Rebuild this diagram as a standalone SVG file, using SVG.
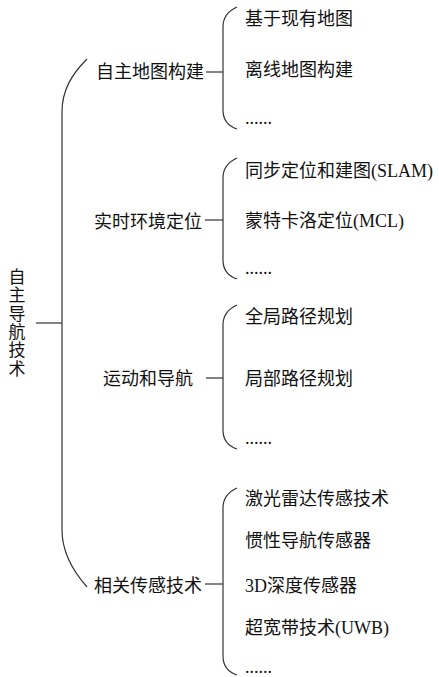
<svg xmlns="http://www.w3.org/2000/svg" width="439" height="677" viewBox="0 0 439 677">
<style>
text{font-family:"Liberation Serif","Noto Sans CJK SC",serif;font-size:18px;fill:#111}
.v{font-size:17px}
.ln{fill:none;stroke:#333;stroke-width:1.2}
</style>
<rect width="439" height="677" fill="#fff"/>
<g id="connectors">
<path class="ln" d="M36,323 H62"/>
<path class="ln" d="M87,59 C72,74 62,90 62,112 V530 C62,552 72,570 87,587"/>
<path class="ln" d="M206,72 H223"/>
<path class="ln" d="M237,7 C228,11 223,17 223,27 V110 C223,120 228,126 237,129"/>
<path class="ln" d="M205,220 H223"/>
<path class="ln" d="M237,158 C228,162 223,168 223,178 V260 C223,270 228,276 237,279"/>
<path class="ln" d="M206,378 H223"/>
<path class="ln" d="M237,305 C228,309 223,315 223,325 V430 C223,440 228,446 237,449"/>
<path class="ln" d="M205,584 H223"/>
<path class="ln" d="M237,488 C228,492 223,498 223,508 V656 C223,666 228,672 237,675"/>
</g>
<g id="root">
<text class="v" x="17" y="283" text-anchor="middle">自</text>
<text class="v" x="17" y="301" text-anchor="middle">主</text>
<text class="v" x="17" y="320" text-anchor="middle">导</text>
<text class="v" x="17" y="338" text-anchor="middle">航</text>
<text class="v" x="17" y="356" text-anchor="middle">技</text>
<text class="v" x="17" y="375" text-anchor="middle">术</text>
</g>
<g id="n1"><text x="96" y="78">自主地图构建</text></g>
<g id="n1a"><text x="245" y="25">基于现有地图</text></g>
<g id="n1b"><text x="245" y="76">离线地图构建</text></g>
<g id="n1c"><text x="245" y="124">......</text></g>
<g id="n2"><text x="94" y="228">实时环境定位</text></g>
<g id="n2a"><text x="245" y="177">同步定位和建图(SLAM)</text></g>
<g id="n2b"><text x="245" y="227">蒙特卡洛定位(MCL)</text></g>
<g id="n2c"><text x="245" y="274">......</text></g>
<g id="n3"><text x="103" y="385">运动和导航</text></g>
<g id="n3a"><text x="245" y="323">全局路径规划</text></g>
<g id="n3b"><text x="245" y="385">局部路径规划</text></g>
<g id="n3c"><text x="245" y="444">......</text></g>
<g id="n4"><text x="94" y="592">相关传感技术</text></g>
<g id="n4a"><text x="245" y="505">激光雷达传感技术</text></g>
<g id="n4b"><text x="245" y="547">惯性导航传感器</text></g>
<g id="n4c"><text x="245" y="592">3D深度传感器</text></g>
<g id="n4d"><text x="245" y="634">超宽带技术(UWB)</text></g>
<g id="n4e"><text x="245" y="673">......</text></g>
</svg>
